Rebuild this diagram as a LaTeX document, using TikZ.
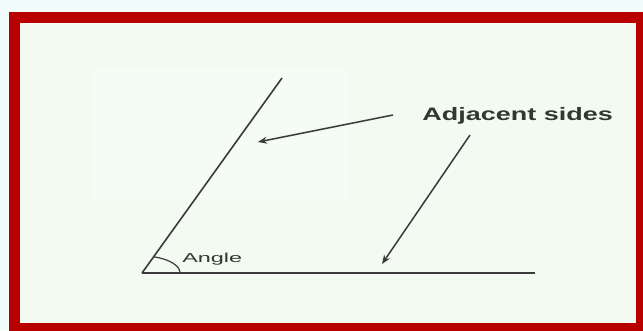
\documentclass[tikz,border=0pt]{standalone}
\usepackage{fontspec}
\setmainfont{Liberation Sans}
\usetikzlibrary{arrows.meta}
\definecolor{outerbg}{HTML}{F2FCFA}
\definecolor{innerbg}{HTML}{F2FAF2}
\definecolor{framered}{HTML}{B80000}
\definecolor{inkgray}{HTML}{3A3A3A}
\definecolor{textgray}{HTML}{2E3A30}
\tikzset{
  side/.style={draw=inkgray, line width=1.6pt},
  pointer/.style={draw=inkgray, line width=1.5pt, -{Stealth[length=9pt,width=7pt]}},
  label/.style={inner sep=0pt, text=textgray}
}
\begin{document}
\begin{tikzpicture}[x=1pt,y=-1pt]
\useasboundingbox (0,0) rectangle (643,330);
\clip (0,0) rectangle (643,330);
\fill[outerbg] (0,0) rectangle (643,330);
\fill[innerbg] (14,17) rectangle (641,328);
\fill[white, opacity=0.3] (90,70) rectangle (350,200);
\draw[framered, line width=11pt] (14,17) rectangle (641,328);
% geometry
\coordinate (V) at (142,273);
\coordinate (B) at (535,273);
\coordinate (U) at (282,78);
\draw[side] (V) -- (B);
\draw[side] (V) -- (U);
\draw[inkgray, line width=1.2pt] (180,273) arc[start angle=0, end angle=-72, x radius=38, y radius=17];
% labels
\node[label, font=\bfseries\fontsize{18}{20}\selectfont, xscale=1.5, anchor=west] (adj) at (422,116) {Adjacent sides};
\node[label, font=\fontsize{13}{15}\selectfont, xscale=1.8, anchor=base west] (ang) at (182,262) {Angle};
% pointers
\coordinate (p1s) at (393,115);
\coordinate (p1e) at (258,142);
\coordinate (p2s) at (470,135);
\coordinate (p2e) at (382,264);
\draw[pointer] (p1s) -- (p1e);
\draw[pointer] (p2s) -- (p2e);
\end{tikzpicture}
\end{document}
